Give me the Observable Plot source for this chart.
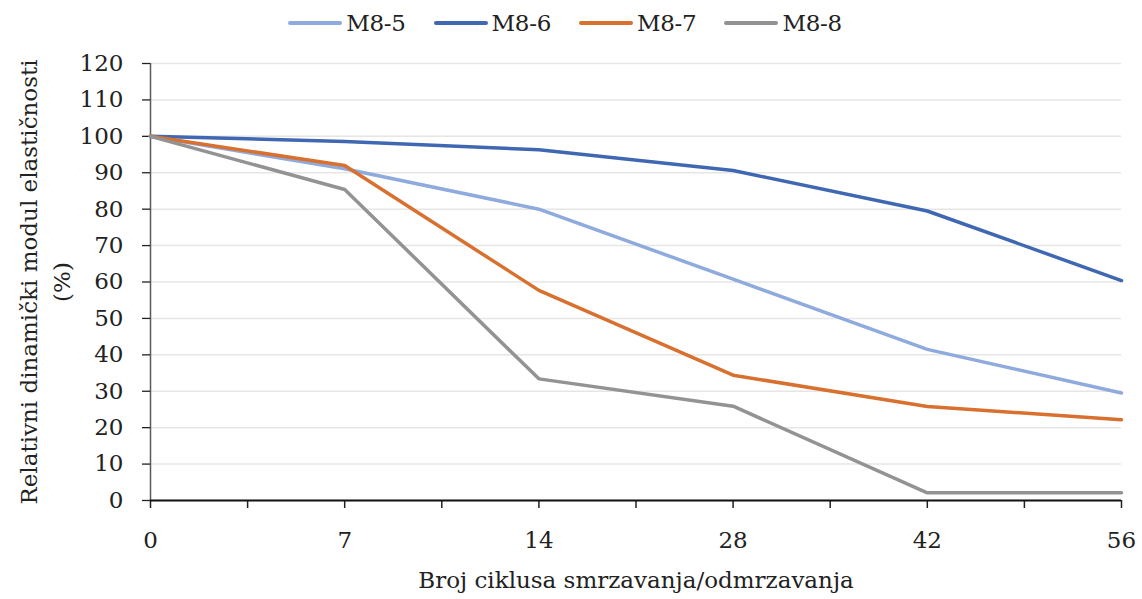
<!DOCTYPE html>
<html><head><meta charset="utf-8">
<script src="https://cdn.jsdelivr.net/npm/d3@7"></script>
<script src="https://cdn.jsdelivr.net/npm/@observablehq/plot@0.6"></script>
<style>
body{margin:0;background:#fff;font-family:"DejaVu Serif",serif;color:#222;}
#legend{height:45px;display:flex;justify-content:center;align-items:center;padding-right:12px;box-sizing:border-box;}
.item{display:flex;align-items:center;margin:0 14px;font-size:23px;letter-spacing:-0.3px;}
.sw{width:54px;height:4px;border-radius:2px;margin-right:4px;}
</style></head><body><div id="legend"></div><div id="chart"></div>
<script>
const cycles = ["0","7","14","28","42","56"];
const seriesNames = ["M8-5","M8-6","M8-7","M8-8"];
const m85 = [100, 91.1, 80.0, 60.8, 41.5, 29.5];
const m86 = [100, 98.6, 96.3, 90.6, 79.5, 60.4];
const m87 = [100, 92.0, 57.7, 34.4, 25.8, 22.2];
const m88 = [100, 85.4, 33.4, 25.9, 2.1, 2.1];
const colors = ["#8FAADC","#4068B2","#D8702F","#939393"];
const yTicks = d3.range(0, 121, 10);
const yTitle = "Relativni dinamički modul elastičnosti\n(%)";
const xTitle = "Broj ciklusa smrzavanja/odmrzavanja";

const allSeries = [m85, m86, m87, m88];
const rows = [];
allSeries.forEach((vals, s) => vals.forEach((v, i) => rows.push({series: seriesNames[s], idx: i, cycle: cycles[i], value: v})));

const leg = document.getElementById("legend");
seriesNames.forEach((n, i) => {
  const it = document.createElement("div"); it.className = "item";
  const sw = document.createElement("div"); sw.className = "sw"; sw.style.background = colors[i];
  const t = document.createElement("span"); t.textContent = n;
  it.appendChild(sw); it.appendChild(t); leg.appendChild(it);
});

const majorIdx = d3.range(cycles.length);
const minorIdx = d3.range(cycles.length - 1).map(i => i + 0.5);
const FS = 23;

const chart = Plot.plot({
  width: 1142, height: 554,
  marginLeft: 150, marginRight: 21, marginTop: 18, marginBottom: 99,
  style: {fontFamily: "'DejaVu Serif', serif", fontSize: FS + "px", color: "#222", background: "#fff"},
  x: {type: "linear", domain: [0, cycles.length - 1]},
  y: {domain: [0, 120]},
  color: {domain: seriesNames, range: colors},
  marks: [
    Plot.gridY(yTicks, {stroke: "#e6e6e6", strokeOpacity: 1, strokeWidth: 1.5}),
    Plot.ruleX([0], {stroke: "#595959", strokeWidth: 1.5}),
    Plot.axisY(yTicks, {tickSize: 8, tickPadding: 19, label: null, stroke: "#222", strokeWidth: 1.3, fontSize: FS}),
    Plot.axisX(majorIdx.concat(minorIdx), {tickSize: 8, tickFormat: () => "", label: null, stroke: "#222", strokeWidth: 1.5}),
    Plot.axisX(majorIdx, {tickSize: 0, tickPadding: 31, tickFormat: i => cycles[i], label: null, fontSize: FS}),
    Plot.line(rows, {x: "idx", y: "value", z: "series", stroke: "series", strokeWidth: 3.5, strokeLinejoin: "round", strokeLinecap: "round"}),
    Plot.ruleY([0], {stroke: "#111", strokeWidth: 2}),
    Plot.text([yTitle], {frameAnchor: "left", rotate: -90, dx: -108, textAnchor: "middle", lineAnchor: "middle", lineHeight: 1.45, fontSize: FS, fill: "#222"}),
    Plot.text([xTitle], {frameAnchor: "bottom", dy: 80, textAnchor: "middle", lineAnchor: "middle", fontSize: FS, fill: "#222"})
  ]
});
document.getElementById("chart").appendChild(chart);
</script></body></html>
